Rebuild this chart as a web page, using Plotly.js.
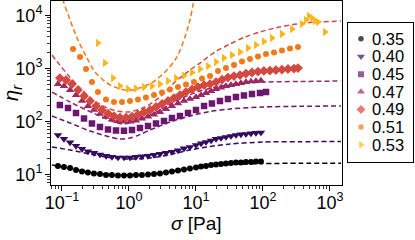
<!DOCTYPE html>
<html><head><meta charset="utf-8">
<script src="https://cdn.plot.ly/plotly-3.0.1.min.js"></script>
<style>html,body{margin:0;padding:0;background:#fff;} #chart{width:415px;height:240px;}</style>
</head><body><div id="chart"></div>
<script>
// ---- legend / series labels
const labels = ['0.35','0.40','0.45','0.47','0.49','0.51','0.53'];
const colors = ['#000000','#330a5f','#6a176e','#9b2964','#d44842','#f37819','#fbb61a'];
const symbols = ['circle','triangle-down','square','triangle-up','diamond','circle','triangle-right'];
const sizes = [6,7.5,6.5,7.5,7.5,6,7.5];

// ---- measured data (sigma in Pa, relative viscosity)
const sigmaA = [0.087,0.107,0.132,0.162,0.199,0.244,0.30,0.369,0.454,0.557,0.685,0.842,1.035,1.27,1.56,1.92,2.36,2.9,3.57,4.38,5.39,6.62,8.13,10.0,11.9,14.1,16.8,19.9,23.6,28.0,33.3,39.5,46.9,55.7,66.1,78.5,93.2];
const eta035 = [14.5,13.9,13.3,12.2,11.4,10.9,10.4,10.2,9.8,9.8,9.6,9.6,9.6,9.8,9.8,10.0,10.2,10.4,10.9,11.4,11.9,12.4,13.0,13.6,14.2,14.5,15.1,15.4,15.8,16.1,16.5,16.8,16.8,17.2,17.2,17.6,17.6];
const eta040 = [55.6,46.8,40.2,34.5,30.3,27.2,25.5,23.8,22.4,21.4,20.9,20.9,20.9,21.4,21.9,22.4,23.4,24.4,25.5,26.6,28.4,31.0,33.0,36.0,38.5,41.0,43.8,46.8,48.8,51.0,53.2,55.6,56.9,58.1,59.4,60.7,62.0];
const eta047 = [510,467,392,316,244,196,165,139,122,109,102,99,100,104.5,114,124,135.5,151,172,196,219,244,266,290,316,345,376,410,438,467,488,510,532,556,569,581,594];

const sigmaB = [0.093,0.123,0.162,0.213,0.280,0.369,0.486,0.640,0.842,1.109,1.459,1.922,2.53,3.33,4.38,5.77,7.6,10.0,13.2,17.3,22.8,30.0,39.5,52.0,68.5,90.2,111];
const eta045 = [205,180,145,114,91.6,78.7,70.6,67.6,67,69.1,75.4,82.2,91.6,102,116,127,145,165,196,219,244,266,290,310,330,345,360];

const sigmaD = [0.093,0.115,0.141,0.173,0.213,0.262,0.322,0.395,0.486,0.597,0.734,0.902,1.109,1.362,1.674,2.06,2.53,3.11,3.82,4.69,5.77,7.09,8.71,10.7,13.2,16.2,19.9,24.5,30.0,36.9,45.4,55.7,68.5,84.2,103,127,156,192,236,290,333];
const eta049 = [662,607,510,392,303,244,196,165,141.5,127,119,119,124,135.5,151,165,188,214,244,277,316,360,402,447,488,510,556,620,676,722,754,805,841,878,898,917,937,957,979,1000,1020];

const sigmaE = [0.146,0.186,0.228,0.280,0.344,0.454,0.597,0.787,1.035,1.362,1.79,2.36,3.11,4.09,5.39,7.09,9.34,12.3,16.2,21.3,28.0,36.9,48.6,64.0,84.2,111,146,192,253,333];
const eta051 = [2330,1650,979,556,360,260,233,233,244,260,284,316,352,402,447,499,556,648,722,897,1020,1160,1356,1510,1683,1878,2004,2188,2385,2545];

const sigmaF = [0.344,0.438,0.577,0.734,0.966,1.27,1.674,2.2,2.9,3.82,5.03,6.62,8.71,11.5,15.1,19.9,26.1,34.4,45.4,59.7,78.5,103,136,192,271,382,438,486,540,597,662,842];
const eta053 = [3030,1270,662,467,410,420,447,467,510,581,662,738,841,979,1115,1327,1580,1800,2050,2440,2775,3230,3760,4480,5560,6920,8230,9790,8970,7870,7540,4890];

// ---- model curves (dashed)
const fitSigmaLow = [0.071,0.132,0.262,0.52,1.035,2.06,4.09,8.13,16.2,32.2,100,356,1460];
const fit035 = [15.1,13.0,10.9,10.0,9.8,10.2,11.4,13.3,14.8,15.6,16.1,16.3,16.3];
const fit040 = [33,29,24.4,20.9,19.6,20.5,23.8,29,33.8,37.6,41,41.6,42];
const fitSigma045 = [0.071,0.132,0.262,0.52,0.734,1.035,1.459,2.06,4.09,8.13,16.2,32.2,100,356,1460];
const fit045 = [127,93.7,66.2,51,46.8,48.8,56.9,69.1,97.9,127,154.5,172,188,193.6,196];
const fitSigma047 = [0.071,0.132,0.29,0.662,0.871,1.459,2.9,5.77,11.5,22.8,45.4,115,356,1460];
const fit047 = [360,233,145,93.7,89.7,107,165,266,376,467,521,556,569,581];
const fitSigma049 = [0.071,0.093,0.123,0.186,0.29,0.52,0.966,1.733,2.9,4.86,8.13,11.5,19.2,32.2,53.9,90.2,162,280,503,1460];
const fit049 = [1800,1160,754,428,254,172,151,188,290,556,937,1270,2050,2900,3930,4890,5940,6760,7380,7870];
const fitSigma051 = [0.090,0.1035,0.132,0.173,0.236,0.311,0.47,0.734,1.035,1.459,2.28,3.69,5.2,6.85,8.13,9.02,9.67];
const fit051 = [40000,19600,8230,3450,1580,859,532,410,385,428,556,937,1650,3930,8230,15800,27700];

const xTickVals = [0.1,1,10,100,1000];
const xTickText = ['10<sup>−1</sup>','10<sup>0</sup>','10<sup>1</sup>','10<sup>2</sup>','10<sup>3</sup>'];
const yTickVals = [10,100,1000,10000];
const yTickText = ['10<sup>1</sup>','10<sup>2</sup>','10<sup>3</sup>','10<sup>4</sup>'];

const FONT = 'Liberation Sans, Arial, sans-serif';

const fits = [
  [fitSigmaLow, fit035, 0],
  [fitSigmaLow, fit040, 1],
  [fitSigma045, fit045, 2],
  [fitSigma047, fit047, 3],
  [fitSigma049, fit049, 4],
  [fitSigma051, fit051, 5]
];
const series = [
  [sigmaA, eta035],[sigmaA, eta040],[sigmaB, eta045],[sigmaA, eta047],
  [sigmaD, eta049],[sigmaE, eta051],[sigmaF, eta053]
];

const traces = [];
fits.forEach(([x, y, i]) => traces.push({
  x, y, type: 'scatter', mode: 'lines', showlegend: false, hoverinfo: 'skip',
  line: {color: colors[i], width: 1.5, dash: '5px,3px', shape: 'spline', smoothing: 0.8}
}));
series.forEach(([x, y], i) => traces.push({
  x, y, type: 'scatter', mode: 'markers', name: labels[i], showlegend: false,
  marker: {symbol: symbols[i], color: colors[i], size: sizes[i], line: {width: 0}}
}));
// legend markers (drawn in a small boxed axis)
traces.push({
  x: labels.map(() => 0), y: labels, xaxis: 'x2', yaxis: 'y2', type: 'scatter', mode: 'markers',
  showlegend: false, hoverinfo: 'skip',
  marker: {symbol: symbols, color: colors, size: sizes.map(s => s - 0.5), line: {width: 0}}
});

const axFont = {family: FONT, size: 18, color: '#000'};
const layout = {
  width: 415, height: 240,
  margin: {l: 51, r: 2, t: 1, b: 55},
  paper_bgcolor: '#fff', plot_bgcolor: '#fff',
  font: {family: FONT, color: '#000'},
  showlegend: false,
  xaxis: {
    type: 'log', range: [-1.164, 3.172], domain: [0, 0.8025],
    showline: true, mirror: true, linecolor: '#000', linewidth: 1,
    ticks: 'outside', ticklen: 5, tickwidth: 1, tickcolor: '#000',
    tickmode: 'array', tickvals: xTickVals, ticktext: xTickText, tickfont: axFont,
    ticklabelstandoff: -4,
    minor: {ticks: 'outside', ticklen: 3, tickwidth: 0.8, tickcolor: '#000', dtick: 'D1', showgrid: false},
    showgrid: false, zeroline: false,
    title: {text: '<i>σ</i> [Pa]', font: {family: FONT, size: 19, color: '#000'}, standoff: 2}
  },
  yaxis: {
    type: 'log', range: [0.802, 4.274],
    showline: true, mirror: true, linecolor: '#000', linewidth: 1,
    ticks: 'outside', ticklen: 5, tickwidth: 1, tickcolor: '#000',
    tickmode: 'array', tickvals: yTickVals, ticktext: yTickText, tickfont: axFont,
    ticklabelstandoff: -1,
    minor: {ticks: 'outside', ticklen: 3, tickwidth: 0.8, tickcolor: '#000', dtick: 'D1', showgrid: false},
    showgrid: false, zeroline: false,
    title: {text: '<i>η</i><sub><i>r</i></sub>', font: {family: FONT, size: 20, color: '#000'}, standoff: 4}
  },
  xaxis2: {
    domain: [0.8204, 1.0], range: [-1, 4], anchor: 'y2',
    showline: true, mirror: true, linecolor: '#000', linewidth: 1,
    showticklabels: false, ticks: '', showgrid: false, zeroline: false, fixedrange: true
  },
  yaxis2: {
    domain: [0.1274, 0.8808], type: 'category', range: [6.95, -0.9], anchor: 'x2',
    showline: true, mirror: true, linecolor: '#000', linewidth: 1,
    showticklabels: false, ticks: '', showgrid: false, zeroline: false, fixedrange: true
  },
  annotations: labels.map((t, i) => ({
    xref: 'x2', yref: 'y2', x: 0.72, y: i, text: t, showarrow: false,
    xanchor: 'left', yanchor: 'middle', font: {family: FONT, size: 16.5, color: '#000'}
  }))
};

Plotly.newPlot('chart', traces, layout, {displayModeBar: false, staticPlot: true});
</script>
</body></html>
